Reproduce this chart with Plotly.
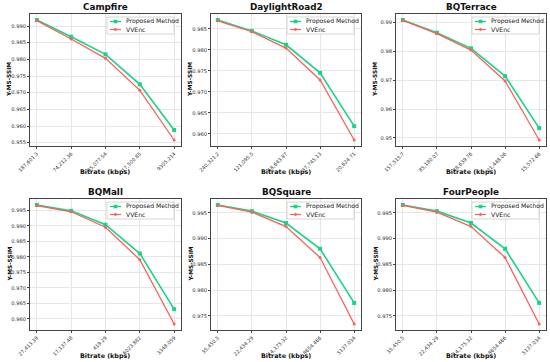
import plotly.graph_objects as go

titles = ["Campfire", "DaylightRoad2", "BQTerrace", "BQMall", "BQSquare", "FourPeople"]

bitrate_labels = [
    ["187,601.3", "74,212.36", "35,077.54", "17,500.85", "9305.214"],
    ["240,321.2", "121,095.5", "68,643.87", "37,745.13", "20,624.71"],
    ["157,515.7", "85,180.07", "48,639.76", "21,448.06", "15,572.66"],
    ["27,413.39", "17,137.48", "419.29", "6023.882", "3348.059"],
    ["35,450.5", "22,434.29", "14,175.32", "8654.466", "5137.034"],
    ["35,450.5", "22,434.29", "14,175.32", "8654.466", "5137.034"],
]

proposed = [
    [0.9918, 0.9868, 0.9815, 0.9725, 0.9588],
    [0.9871, 0.9845, 0.9812, 0.9745, 0.9618],
    [0.9908, 0.9864, 0.9810, 0.9714, 0.9534],
    [0.9968, 0.9949, 0.9904, 0.9811, 0.9631],
    [0.9965, 0.9953, 0.9930, 0.9880, 0.9775],
    [0.9965, 0.9953, 0.9930, 0.9880, 0.9775],
]

vvenc = [
    [0.9916, 0.9861, 0.9803, 0.9707, 0.9558],
    [0.9869, 0.9843, 0.9804, 0.9728, 0.9585],
    [0.9907, 0.9861, 0.9804, 0.9697, 0.9493],
    [0.9966, 0.9946, 0.9896, 0.9791, 0.9583],
    [0.9964, 0.9951, 0.9923, 0.9863, 0.9734],
    [0.9964, 0.9951, 0.9923, 0.9863, 0.9734],
]

series_names = ["Proposed Method", "VVEnc"]

y_dtick = [0.005, 0.005, 0.01, 0.005, 0.005, 0.005]
y_fmt = [".3f", ".3f", ".2f", ".3f", ".3f", ".3f"]

W, H = 550, 362
GREEN = "#19d38b"
RED = "#f9625a"
FONT = "DejaVu Sans"

col_px = [(30, 181), (211, 361), (396, 546)]
row_px = [(14, 146), (199, 330)]


def px(xp, yp):
    return xp / W, 1 - yp / H


fig = go.Figure()
layout = dict(
    width=W, height=H,
    margin=dict(l=0, r=0, t=0, b=0),
    paper_bgcolor="white", plot_bgcolor="white",
    font=dict(family=FONT, color="#222"),
    showlegend=False,
)
annotations = []
shapes = []

for i in range(6):
    r, c = divmod(i, 3)
    x0, x1 = col_px[c]
    y0, y1 = row_px[r]
    xd = [x0 / W, x1 / W]
    yd = [1 - y1 / H, 1 - y0 / H]
    sfx = "" if i == 0 else str(i + 1)
    xa, ya = "x" + sfx, "y" + sfx
    xs = list(range(len(bitrate_labels[i])))

    fig.add_trace(go.Scatter(
        x=xs, y=proposed[i], mode="lines+markers", name=series_names[0],
        line=dict(color=GREEN, width=1.6), marker=dict(symbol="square", size=4, color=GREEN),
        xaxis=xa, yaxis=ya))
    fig.add_trace(go.Scatter(
        x=xs, y=vvenc[i], mode="lines+markers", name=series_names[1],
        line=dict(color=RED, width=1.3), marker=dict(symbol="circle", size=3, color=RED),
        xaxis=xa, yaxis=ya))

    allv = proposed[i] + vvenc[i]
    lo, hi = min(allv), max(allv)
    pad = (hi - lo) * 0.05
    xpad = (len(xs) - 1) * 0.05

    common = dict(
        showgrid=True, gridcolor="#e6e6e6", gridwidth=0.6,
        showline=True, linecolor="#444", linewidth=0.8, mirror=True,
        ticks="outside", ticklen=2, tickcolor="#444", zeroline=False,
        automargin=False,
    )
    layout["xaxis" + sfx] = dict(
        domain=xd, anchor=ya, range=[-xpad, len(xs) - 1 + xpad],
        tickmode="array", tickvals=xs, ticktext=bitrate_labels[i],
        tickangle=-45, tickfont=dict(size=5, color="#333"), **common)
    layout["yaxis" + sfx] = dict(
        domain=yd, anchor=xa, range=[lo - pad, hi + pad],
        dtick=y_dtick[i], tick0=0, tickformat=y_fmt[i],
        tickfont=dict(size=5.2, color="#333"), **common)

    # custom legend box (matplotlib style)
    lx1, ly0 = x1 - 7, y0 + 3
    lx0, ly1 = lx1 - 67, ly0 + 17
    a, b = px(lx0, ly0)
    cc, d = px(lx1, ly1)
    shapes.append(dict(type="rect", xref="paper", yref="paper", x0=a, x1=cc, y0=d, y1=b,
                       line=dict(color="#cccccc", width=0.8), fillcolor="rgba(255,255,255,0.85)",
                       layer="above"))
    for k, (nm, col, sym) in enumerate([(series_names[0], GREEN, "square"), (series_names[1], RED, "circle")]):
        yy = ly0 + 4.5 + k * 8
        sa, sy = px(lx0 + 3, yy)
        sb, _ = px(lx0 + 14, yy)
        shapes.append(dict(type="line", xref="paper", yref="paper", x0=sa, x1=sb, y0=sy, y1=sy,
                           line=dict(color=col, width=1.4 if k == 0 else 1.2), layer="above"))
        h = 1.8 if k == 0 else 1.4
        ma, my0 = px(lx0 + 8.5 - h, yy - h)
        mb, my1 = px(lx0 + 8.5 + h, yy + h)
        shapes.append(dict(type="rect" if sym == "square" else "circle", xref="paper", yref="paper",
                           x0=ma, x1=mb, y0=my1, y1=my0, fillcolor=col, line=dict(width=0),
                           layer="above"))
        tx, ty = px(lx0 + 17, yy)
        annotations.append(dict(text=nm, x=tx, y=ty, xref="paper", yref="paper", showarrow=False,
                                xanchor="left", yanchor="middle",
                                font=dict(size=6.1, family=FONT, color="#222")))

    # title
    tx, ty = px((x0 + x1) / 2, y0 - 7)
    annotations.append(dict(
        text="<b>%s</b>" % titles[i], x=tx, y=ty,
        xref="paper", yref="paper", showarrow=False, xanchor="center", yanchor="middle",
        font=dict(size=8.8, family=FONT, color="#111")))
    # x title
    tx, ty = px((x0 + x1) / 2, y1 + 26)
    annotations.append(dict(
        text="<b>Bitrate (kbps)</b>", x=tx, y=ty,
        xref="paper", yref="paper", showarrow=False, xanchor="center", yanchor="middle",
        font=dict(size=6.4, family=FONT, color="#111")))
    # y title
    tx, ty = px(x0 - 21, (y0 + y1) / 2)
    annotations.append(dict(
        text="<b>Y-MS-SSIM</b>", x=tx, y=ty,
        xref="paper", yref="paper", showarrow=False, xanchor="center", yanchor="middle",
        textangle=-90, font=dict(size=5.8, family=FONT, color="#111")))

layout["annotations"] = annotations
layout["shapes"] = shapes
fig.update_layout(**layout)
fig.write_html("out.html", config={"displayModeBar": False},
               post_script="document.body.style.margin='0px';")
